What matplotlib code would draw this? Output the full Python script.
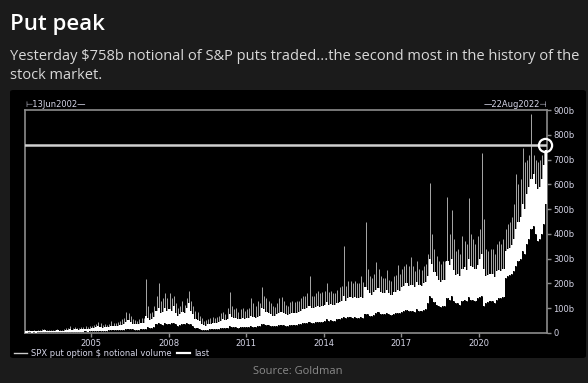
import matplotlib.pyplot as plt
import matplotlib.dates as mdates
from matplotlib.patches import FancyBboxPatch
from matplotlib.lines import Line2D
import pandas as pd

# monthly core range (low / high) and monthly peak of SPX put notional, $bn
# Jun 2002 .. Aug 2022
lo = [
    2, 2, 3, 2, 3, 2, 3,                                  # 2002
    3, 3, 4, 3, 3, 3, 4, 3, 4, 4, 3, 4,                   # 2003
    5, 5, 6, 5, 6, 6, 5, 6, 6, 7, 6, 7,                   # 2004
    8, 9, 9, 10, 10, 9, 10, 10, 11, 12, 11, 12,           # 2005
    12, 12, 13, 14, 16, 18, 17, 15, 14, 14, 14, 15,       # 2006
    16, 18, 25, 22, 22, 26, 35, 40, 35, 34, 40, 38,       # 2007
    35, 40, 42, 35, 30, 32, 38, 35, 40, 38, 35, 30,       # 2008
    22, 20, 18, 14, 12, 12, 14, 15, 16, 16, 17, 18,       # 2009
    20, 22, 20, 22, 28, 26, 24, 24, 22, 24, 25, 24,       # 2010
    24, 24, 28, 26, 25, 28, 28, 38, 36, 34, 32, 30,       # 2011
    28, 28, 30, 32, 34, 34, 30, 30, 32, 34, 34, 34,       # 2012
    36, 38, 40, 40, 42, 45, 42, 42, 44, 46, 44, 46,       # 2013
    50, 55, 50, 52, 50, 50, 55, 58, 60, 65, 60, 65,       # 2014
    65, 62, 65, 62, 62, 65, 62, 75, 75, 70, 68, 72,       # 2015
    80, 85, 78, 75, 75, 82, 75, 72, 78, 80, 82, 80,       # 2016
    85, 88, 92, 88, 90, 90, 85, 95, 90, 88, 92, 95,       # 2017
    120, 150, 140, 125, 115, 110, 105, 110, 108, 140, 135, 150,   # 2018
    130, 120, 120, 115, 130, 135, 130, 145, 135, 135, 130, 140,   # 2019
    145, 150, 110, 120, 125, 130, 130, 120, 135, 140, 140, 145,   # 2020
    220, 230, 235, 240, 250, 270, 290, 300, 330, 320, 360, 380,   # 2021
    420, 430, 400, 370, 380, 400, 440, 520,                       # 2022
]
hi = [
    7, 8, 9, 7, 8, 7, 8,
    9, 10, 12, 9, 9, 8, 10, 9, 11, 10, 9, 10,
    13, 14, 16, 14, 15, 15, 14, 16, 16, 18, 16, 18,
    20, 22, 24, 28, 26, 22, 24, 24, 26, 30, 28, 28,
    30, 32, 34, 36, 45, 52, 44, 38, 36, 36, 36, 40,
    42, 70, 60, 52, 55, 65, 90, 100, 80, 85, 100, 90,
    95, 90, 110, 80, 70, 75, 85, 80, 100, 120, 90, 75,
    55, 52, 48, 38, 32, 30, 35, 38, 40, 40, 42, 45,
    50, 55, 52, 58, 75, 65, 60, 60, 55, 58, 60, 58,
    60, 62, 70, 65, 60, 65, 70, 100, 95, 85, 80, 75,
    70, 70, 75, 80, 85, 82, 75, 72, 78, 82, 82, 82,
    85, 90, 95, 95, 100, 110, 100, 100, 105, 110, 105, 110,
    115, 125, 115, 118, 112, 112, 120, 125, 130, 150, 130, 140,
    145, 140, 145, 140, 140, 145, 140, 185, 175, 160, 155, 165,
    175, 180, 165, 160, 160, 175, 160, 155, 165, 165, 175, 170,
    185, 190, 200, 190, 195, 195, 185, 205, 195, 190, 200, 205,
    230, 300, 280, 245, 230, 215, 205, 215, 215, 290, 275, 300,
    255, 235, 240, 230, 260, 265, 255, 300, 270, 265, 260, 275,
    300, 320, 260, 230, 235, 240, 240, 225, 250, 255, 250, 260,
    330, 340, 345, 355, 380, 420, 450, 470, 520, 500, 560, 590,
    620, 640, 600, 580, 590, 620, 680, 740,
]
top = [
    10, 12, 14, 10, 11, 10, 12,
    13, 15, 18, 12, 12, 11, 14, 13, 16, 14, 12, 15,
    20, 22, 28, 20, 24, 22, 20, 25, 24, 30, 24, 28,
    30, 34, 38, 46, 40, 32, 36, 34, 38, 48, 40, 42,
    45, 48, 55, 60, 85, 80, 70, 55, 52, 50, 55, 60,
    60, 218, 110, 80, 85, 110, 150, 200, 130, 140, 160, 140,
    160, 140, 150, 120, 100, 110, 130, 115, 140, 170, 130, 110,
    90, 85, 70, 60, 50, 52, 55, 60, 65, 60, 65, 70,
    80, 85, 78, 100, 165, 110, 95, 100, 85, 95, 100, 90,
    95, 100, 140, 120, 110, 130, 120, 185, 150, 140, 130, 120,
    110, 105, 120, 140, 145, 130, 115, 110, 125, 130, 125, 130,
    130, 140, 150, 150, 160, 230, 150, 150, 160, 170, 160, 165,
    170, 200, 165, 170, 160, 160, 175, 185, 190, 350, 190, 210,
    210, 200, 210, 200, 200, 230, 205, 450, 260, 230, 220, 240,
    285, 260, 230, 220, 220, 255, 215, 210, 230, 235, 275, 240,
    260, 270, 280, 270, 305, 270, 250, 290, 260, 255, 270, 280,
    320, 605, 400, 340, 310, 290, 280, 290, 290, 550, 400, 495,
    380, 330, 340, 320, 390, 370, 360, 545, 400, 380, 360, 390,
    420, 725, 460, 340, 330, 340, 340, 320, 360, 370, 360, 380,
    420, 440, 450, 470, 520, 640, 600, 620, 745, 690, 700, 720,
    883, 720, 700, 690, 700, 720, 740, 758,
]
last_value = 758
last_date = pd.Timestamp('2022-07-28')
start, end = pd.Timestamp('2002-06-13'), pd.Timestamp('2022-08-22')
yticks = [0, 100, 200, 300, 400, 500, 600, 700, 800, 900]
ytick_labels = ['0'] + ['%db' % v for v in yticks[1:]]
xtick_years = [2005, 2008, 2011, 2014, 2017, 2020]

dates = pd.date_range('2002-06-01', periods=len(lo), freq='MS') + pd.Timedelta(days=14)

bg = '#1b1b1b'
txt = '#d4d4e6'
fig = plt.figure(figsize=(5.88, 3.83), dpi=100, facecolor=bg)

fig.text(10 / 588, 1 - 30 / 383, 'Put peak', color='white', fontsize=16,
         fontweight='semibold', family='Open Sans')
fig.text(10 / 588, 1 - 60 / 383,
         'Yesterday $758b notional of S&P puts traded...the second most in the history of the',
         color='#d8d8d8', fontsize=10.5, family='Open Sans')
fig.text(10 / 588, 1 - 79 / 383, 'stock market.', color='#d8d8d8', fontsize=10.5, family='Open Sans')
fig.text(298 / 588, 1 - 374 / 383, 'Source: Goldman', color='#8a8a8a', fontsize=8,
         family='Open Sans', ha='center')

panel = FancyBboxPatch((10 / 588, 1 - 358 / 383), 576 / 588, 268 / 383,
                       boxstyle='round,pad=0,rounding_size=0.006',
                       transform=fig.transFigure, facecolor='black', edgecolor='none',
                       zorder=-1)
fig.patches.append(panel)

ax = fig.add_axes([25 / 588, 1 - 333 / 383, 522 / 588, 223 / 383])
ax.set_facecolor('black')

ax.vlines(dates, lo, top, color='#c4c4c4', lw=0.6, zorder=2)
ax.fill_between(dates, lo, hi, step='mid', color='white', lw=0, zorder=3)
ax.axhline(last_value, color='#d0d0d0', lw=1.8, zorder=4)
ax.plot([last_date], [last_value], 'o', ms=9.5, mfc='none', mec='white', mew=1.6,
        zorder=5, clip_on=False)

ax.set_xlim(start, end)
ax.set_ylim(0, 900)
for s in ax.spines.values():
    s.set_color('#8c8c8c')
    s.set_linewidth(1.2)
ax.yaxis.tick_right()
ax.set_yticks(yticks)
ax.set_yticklabels(ytick_labels)
ax.set_xticks([pd.Timestamp('%d-01-01' % y) for y in xtick_years])
ax.xaxis.set_major_formatter(mdates.DateFormatter('%Y'))
ax.tick_params(colors='#8c8c8c', labelcolor=txt, labelsize=6, length=3, width=1, pad=1.5)

ax.text(0, 1.005, '⊢13Jun2002—', transform=ax.transAxes, color=txt, fontsize=6,
        ha='left', va='bottom')
ax.text(1, 1.005, '—22Aug2022⊣', transform=ax.transAxes, color=txt, fontsize=6,
        ha='right', va='bottom')

handles = [Line2D([], [], color='#cccccc', lw=1.0), Line2D([], [], color='white', lw=1.6)]
fig.legend(handles, ['SPX put option $ notional volume', 'last'], loc='lower left',
           bbox_to_anchor=(12 / 588, 1 - 360 / 383), ncol=2, frameon=False, fontsize=6,
           labelcolor=txt, handlelength=1.6, handletextpad=0.5, columnspacing=0.6,
           borderpad=0.2, borderaxespad=0.0)

fig.savefig('out.png', dpi=100, facecolor=bg)
